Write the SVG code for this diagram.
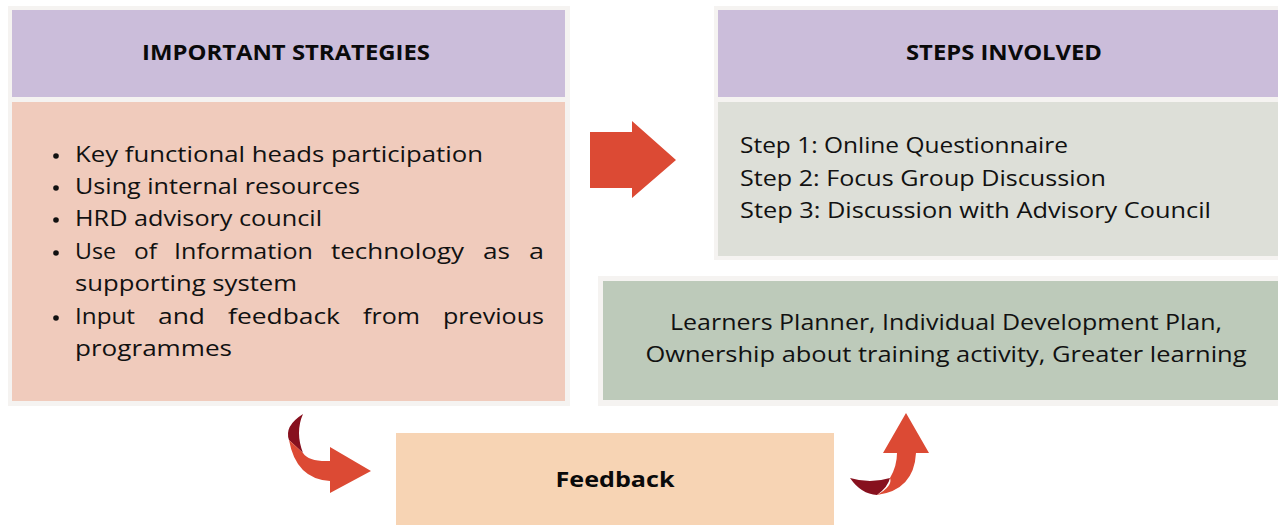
<svg xmlns="http://www.w3.org/2000/svg" width="1278" height="525" viewBox="0 0 1278 525">
<style>
.frame{fill:#f5f3f1}
.head{fill:#cbbdda}
.t{font-family:"Open Sans","Liberation Sans",sans-serif;font-size:22px;fill:#111}
.h{font-family:"Open Sans","Liberation Sans",sans-serif;font-size:21px;font-weight:bold;fill:#0a0a0a}
.arrow{fill:#dc4a34}
.dark{fill:#87101e}
</style>
<rect width="1278" height="525" fill="#ffffff"/>
<g id="strategies">
<rect class="frame" x="8" y="6" width="562" height="400"/>
<rect class="head" x="12" y="10" width="553" height="87"/>
<rect x="12" y="102" width="553" height="299" fill="#f0cbbc"/>
<text class="h" x="286" y="60" text-anchor="middle" textLength="288" lengthAdjust="spacingAndGlyphs">IMPORTANT STRATEGIES</text>
<g fill="#111">
<circle cx="56" cy="156" r="2.8"/>
<circle cx="56" cy="188" r="2.8"/>
<circle cx="56" cy="220" r="2.8"/>
<circle cx="56" cy="253" r="2.8"/>
<circle cx="56" cy="318" r="2.8"/>
</g>
<text class="t" x="75" y="162" textLength="408" lengthAdjust="spacingAndGlyphs">Key functional heads participation</text>
<text class="t" x="75" y="194" textLength="285" lengthAdjust="spacingAndGlyphs">Using internal resources</text>
<text class="t" x="75" y="226" textLength="247" lengthAdjust="spacingAndGlyphs">HRD advisory council</text>
<text class="t" y="259"><tspan x="75" textLength="41" lengthAdjust="spacingAndGlyphs">Use</tspan><tspan x="134" textLength="23" lengthAdjust="spacingAndGlyphs">of</tspan><tspan x="174" textLength="139" lengthAdjust="spacingAndGlyphs">Information</tspan><tspan x="331" textLength="133" lengthAdjust="spacingAndGlyphs">technology</tspan><tspan x="483" textLength="27" lengthAdjust="spacingAndGlyphs">as</tspan><tspan x="529" textLength="15" lengthAdjust="spacingAndGlyphs">a</tspan></text>
<text class="t" x="75" y="291" textLength="222" lengthAdjust="spacingAndGlyphs">supporting system</text>
<text class="t" y="324"><tspan x="75" textLength="60" lengthAdjust="spacingAndGlyphs">Input</tspan><tspan x="158" textLength="47" lengthAdjust="spacingAndGlyphs">and</tspan><tspan x="228" textLength="112" lengthAdjust="spacingAndGlyphs">feedback</tspan><tspan x="363" textLength="57" lengthAdjust="spacingAndGlyphs">from</tspan><tspan x="443" textLength="101" lengthAdjust="spacingAndGlyphs">previous</tspan></text>
<text class="t" x="75" y="356" textLength="157" lengthAdjust="spacingAndGlyphs">programmes</text>
</g>
<g id="steps">
<rect class="frame" x="714" y="6" width="564" height="254"/>
<rect class="head" x="718" y="10" width="560" height="87"/>
<rect x="718" y="102" width="560" height="154" fill="#dddfd8"/>
<text class="h" x="1004" y="60" text-anchor="middle" textLength="196" lengthAdjust="spacingAndGlyphs">STEPS INVOLVED</text>
<text class="t" x="740" y="153" textLength="328" lengthAdjust="spacingAndGlyphs">Step 1: Online Questionnaire</text>
<text class="t" x="740" y="186" textLength="366" lengthAdjust="spacingAndGlyphs">Step 2: Focus Group Discussion</text>
<text class="t" x="740" y="218" textLength="471" lengthAdjust="spacingAndGlyphs">Step 3: Discussion with Advisory Council</text>
</g>
<g id="outcomes">
<rect class="frame" x="598" y="276" width="680" height="130"/>
<rect x="603" y="281" width="675" height="119" fill="#bdcaba"/>
<text class="t" x="946" y="330" text-anchor="middle" textLength="552" lengthAdjust="spacingAndGlyphs">Learners Planner, Individual Development Plan,</text>
<text class="t" x="946" y="362" text-anchor="middle" textLength="601" lengthAdjust="spacingAndGlyphs">Ownership about training activity, Greater learning</text>
</g>
<g id="feedback">
<rect x="396" y="433" width="438" height="92" fill="#f7d4b4"/>
<text class="h" x="615" y="487" text-anchor="middle" textLength="119" lengthAdjust="spacingAndGlyphs">Feedback</text>
</g>
<g id="connectors">
<polygon class="arrow" points="590,132 632,132 632,121 676,160 632,198 632,188 590,188"/>
<path class="dark" d="M303,414 Q284,426 289,440 L303,453 Q295,432 303,414 Z"/>
<path class="arrow" d="M289,440 Q296,479 330,481 L330,493 L371,471 L330,447 L330,461 Q309,462 303,453 Z"/>
<path class="dark" d="M850,478 Q861,494 877,495 Q888,487 890,478 Q870,484 850,478 Z"/>
<path class="arrow" d="M897,453 L883,453 L906,413 L929,453 L916,453 Q914,490 877,495 Q893,486 890,478 Q897,466 897,453 Z"/>
</g>
</svg>
